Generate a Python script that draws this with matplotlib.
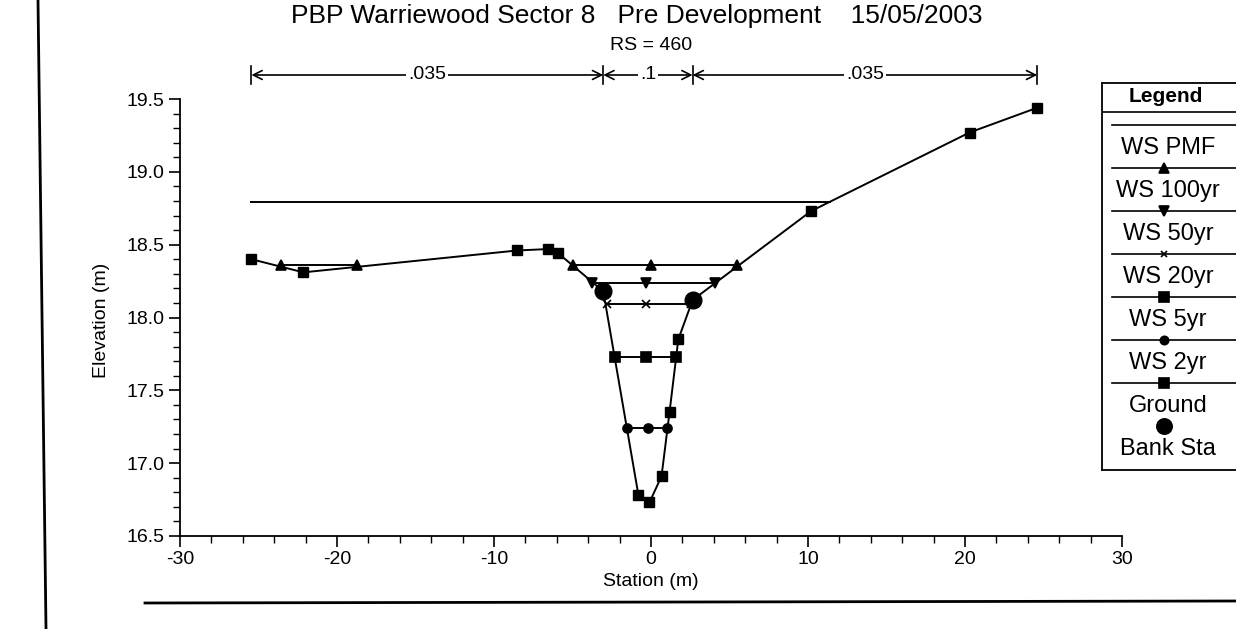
import matplotlib
matplotlib.use("Agg")
import matplotlib.pyplot as plt
import numpy as np
from matplotlib.lines import Line2D
from matplotlib.ticker import MultipleLocator, FormatStrFormatter

plt.rcParams['font.family'] = ['Liberation Sans', 'DejaVu Sans']
plt.rcParams['axes.unicode_minus'] = False

# ---------------- data ----------------
title = "PBP Warriewood Sector 8   Pre Development    15/05/2003"
subtitle = "RS = 460"
x_label = "Station (m)"
y_label = "Elevation (m)"

ground_sta = [-25.45, -22.14, -8.53, -6.55, -5.90, -3.04, -0.80, -0.10, 0.67, 1.18, 1.74, 2.65, 10.19, 20.29, 24.60]
ground_elev = [18.40, 18.31, 18.46, 18.47, 18.44, 18.18, 16.78, 16.73, 16.91, 17.35, 17.85, 18.12, 18.73, 19.27, 19.44]

bank_sta = [-3.04, 2.65]
bank_elev = [18.18, 18.12]

ws_names = ["WS PMF", "WS 100yr", "WS 50yr", "WS 20yr", "WS 5yr", "WS 2yr"]
ws_elev = [18.79, 18.36, 18.24, 18.09, 17.73, 17.24]
nan = np.nan
ws_sta = [
    [-25.45, 11.40],
    [-23.57, -18.71, nan, -4.95, -0.03, 5.46],
    [-3.74, -0.29, 4.08],
    [-2.80, -0.29, 2.52],
    [-2.27, -0.29, 1.61],
    [-1.50, -0.18, 1.05],
]

n_values = [".035", ".1", ".035"]
n_breaks = [-25.45, -3.04, 2.65, 24.60]

legend_labels = ["WS PMF", "WS 100yr", "WS 50yr", "WS 20yr", "WS 5yr", "WS 2yr", "Ground", "Bank Sta"]

# ---------------- styles ----------------
ws_markers = [None, "^", "v", "x", "s", "o"]
ws_msize = [0, 7.5, 7.5, 6, 7, 6.5]
leg_markers = [None, "^", "v", "x", "s", "o", "s", "o"]
leg_msize = [0, 6.5, 6.5, 5, 6.5, 6, 6.5, 11]
leg_lines = [True, True, True, True, True, True, True, False]

W, H = 1236, 629
fig = plt.figure(figsize=(W / 100, H / 100), dpi=100)

def fx(px):
    return px / W

def fy(py):
    return 1 - py / H

ax_l, ax_r, ax_t, ax_b = 180, 1122, 99, 536
ax = fig.add_axes([fx(ax_l), fy(ax_b), fx(ax_r) - fx(ax_l), fy(ax_t) - fy(ax_b)])
ax.set_xlim(-30, 30)
ax.set_ylim(16.5, 19.5)
for s in ("top", "right"):
    ax.spines[s].set_visible(False)
for s in ("left", "bottom"):
    ax.spines[s].set_linewidth(1.3)
ax.xaxis.set_major_locator(MultipleLocator(10))
ax.xaxis.set_minor_locator(MultipleLocator(2))
ax.yaxis.set_major_locator(MultipleLocator(0.5))
ax.yaxis.set_minor_locator(MultipleLocator(0.1))
ax.yaxis.set_major_formatter(FormatStrFormatter("%.1f"))
ax.tick_params(which="major", direction="out", length=8, width=1.2, labelsize=14, pad=3)
ax.tick_params(which="minor", direction="out", length=5, width=1.0)

# water surfaces
for name, el, st, mk, ms in zip(ws_names, ws_elev, ws_sta, ws_markers, ws_msize):
    st = np.array(st, dtype=float)
    ax.plot(st, np.where(np.isnan(st), np.nan, el), color="black", lw=1.4,
            marker=mk if mk else "None", ms=ms, mec="black", mfc="black", mew=1.2, clip_on=False)

# ground
ax.plot(ground_sta, ground_elev, color="black", lw=1.4, marker="s", ms=7, mfc="black", mec="black", clip_on=False)
# bank stations
ax.plot(bank_sta, bank_elev, ls="None", marker="o", ms=12, mfc="black", mec="black", clip_on=False)

# Manning's n bar above plot
bar_y = 19.5 + (99 - 75) / 145.6
tick_h = 0.065
for b in n_breaks:
    ax.plot([b, b], [bar_y - tick_h, bar_y + tick_h], color="black", lw=1.2, clip_on=False)
for i, lab in enumerate(n_values):
    a, b = n_breaks[i], n_breaks[i + 1]
    ax.annotate("", xy=(a, bar_y), xytext=(b, bar_y), xycoords="data",
                arrowprops=dict(arrowstyle="<->", lw=1.2, color="black", shrinkA=0, shrinkB=0,
                                mutation_scale=16), annotation_clip=False)
    ax.text((a + b) / 2, bar_y, lab, ha="center", va="center", fontsize=14,
            bbox=dict(facecolor="white", edgecolor="none", pad=1.5), clip_on=False)

# titles / labels
fig.text(fx(637), fy(16), title, ha="center", va="center", fontsize=19)
fig.text(fx(651), fy(46), subtitle, ha="center", va="center", fontsize=14)
fig.text(fx(651), fy(582), x_label, ha="center", va="center", fontsize=14)
fig.text(fx(101), fy(320), y_label, ha="center", va="center", fontsize=14, rotation=90)

# page border lines of the scan
fig.add_artist(Line2D([fx(38), fx(46)], [fy(0), fy(629)], color="black", lw=2))
fig.add_artist(Line2D([fx(145), fx(1236)], [fy(603), fy(601)], color="black", lw=2))

# legend box (drawn in pixel coordinates)
L, T, B = 1102, 83, 470
lax = fig.add_axes([fx(L), fy(B), fx(L + 200) - fx(L), fy(T) - fy(B)])
lax.set_xlim(L, L + 200)
lax.set_ylim(B, T)
lax.set_xticks([])
lax.set_yticks([])
for s in lax.spines.values():
    s.set_linewidth(1.3)
lax.patch.set_alpha(0)
lax.text(L + 64, 96, "Legend", ha="center", va="center", fontsize=15, fontweight="bold")
lax.plot([L, L + 200], [112, 112], color="black", lw=1.2)
for i, lab in enumerate(legend_labels):
    sy = 125 + 43 * i
    ty = 148 + 43 * i
    if leg_lines[i]:
        lax.plot([L + 10, L + 200], [sy, sy], color="black", lw=1.2)
    if leg_markers[i]:
        lax.plot([L + 62], [sy], marker=leg_markers[i], ms=leg_msize[i], color="black", mew=1.2)
    lax.text(L + 66, ty, lab, ha="center", va="center", fontsize=17)

fig.savefig("out.png", dpi=100)
